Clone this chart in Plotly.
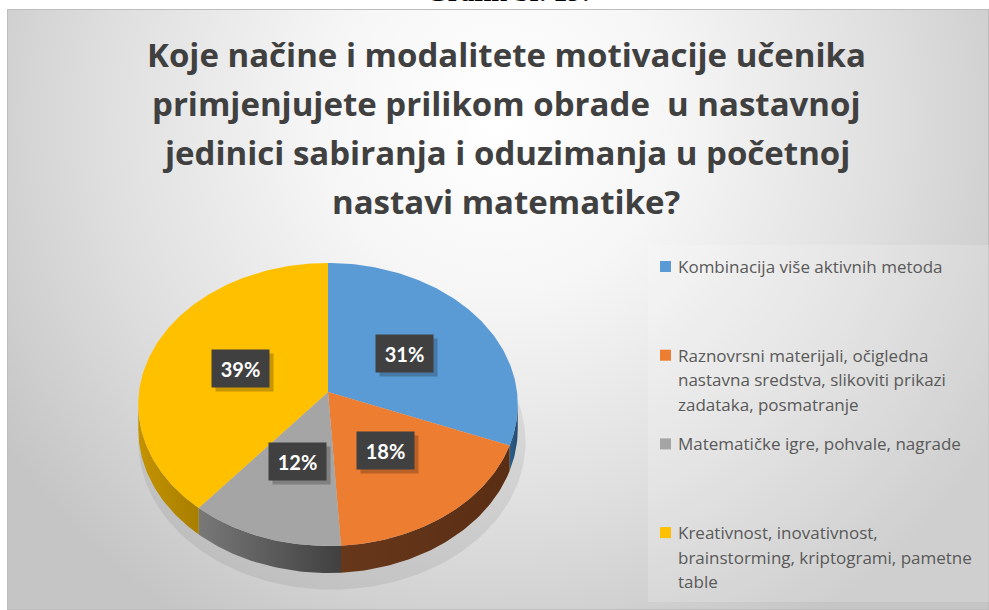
import base64
import numpy as np
import plotly.graph_objects as go

# ---------------- data ----------------
categories = [
    "Kombinacija više aktivnih metoda",
    "Raznovrsni materijali, očigledna nastavna sredstva, slikoviti prikazi zadataka, posmatranje",
    "Matematičke igre, pohvale, nagrade",
    "Kreativnost, inovativnost, brainstorming, kriptogrami, pametne table",
]
legend_lines = [
    ["Kombinacija više aktivnih metoda"],
    ["Raznovrsni materijali, očigledna", "nastavna sredstva, slikoviti prikazi", "zadataka, posmatranje"],
    ["Matematičke igre, pohvale, nagrade"],
    ["Kreativnost, inovativnost,", "brainstorming, kriptogrami, pametne", "table"],
]
values = [31, 18, 12, 39]
percent_labels = ["31%", "18%", "12%", "39%"]
title_lines = [
    "Koje načine i modalitete motivacije učenika",
    "primjenjujete prilikom obrade\u00a0 u nastavnoj",
    "jedinici sabiranja i oduzimanja u početnoj",
    "nastavi matematike?",
]
caption = "Grafik br. 19:"

# ---------------- style ----------------
top_colors = ["#5B9BD5", "#ED7D31", "#A5A5A5", "#FFC000"]
side_colors = [("#2F5E8A", "#244A6E"), ("#67371A", "#5A2E14"), ("#787878", "#404040"), ("#C49300", "#A87E00")]
W, H = 989, 610
CX, CY = 328, 392          # pie apex on screen
A, B, P = 189.0, 140.4, 0.0883   # projection parameters (tilted disc with perspective)
T = 24.6                   # wall thickness

def proj(theta, r=1.0, drop=0.0):
    u = r * np.sin(theta)
    v = r * np.cos(theta)
    d = 1 + P * v
    return CX + A * u / d, CY - B * v / d + drop / d

fig = go.Figure()

total = float(sum(values))
bounds = np.concatenate([[0], np.cumsum(values)]) / total * 2 * np.pi

# soft shadow beneath the pie
th = np.linspace(0, 2 * np.pi, 200)
sx, sy = proj(th, 1.02, T + 12)
fig.add_trace(go.Scatter(x=sx + 4, y=sy, fill="toself", mode="lines", line=dict(width=0),
                         fillcolor="rgba(0,0,0,0.07)", hoverinfo="skip", showlegend=False))

# walls (front facing part only)
t_lo = np.arccos(-P)
t_hi = 2 * np.pi - t_lo
for i, cat in enumerate(categories):
    a0, a1 = max(bounds[i], t_lo), min(bounds[i + 1], t_hi)
    if a1 <= a0:
        continue
    th = np.linspace(a0, a1, max(3, int((a1 - a0) * 60)))
    xt, yt = proj(th)
    xb, yb = proj(th, 1.0, T)
    xs = np.concatenate([xt, xb[::-1]])
    ys = np.concatenate([yt, yb[::-1]])
    c1, c2 = side_colors[i]
    fig.add_trace(go.Scatter(x=xs, y=ys, fill="toself", mode="lines", line=dict(width=0),
                             fillcolor=c1,
                             fillgradient=dict(type="horizontal", colorscale=[[0, c1], [1, c2]]),
                             hoverinfo="skip", showlegend=False))

# top faces
for i, cat in enumerate(categories):
    th = np.linspace(bounds[i], bounds[i + 1], max(3, int((bounds[i + 1] - bounds[i]) * 60)))
    xa, ya = proj(th)
    xs = np.concatenate([[CX], xa, [CX]])
    ys = np.concatenate([[CY], ya, [CY]])
    fig.add_trace(go.Scatter(x=xs, y=ys, fill="toself", mode="lines", line=dict(width=0),
                             fillcolor=top_colors[i], name=cat, hoverinfo="name+text",
                             text=percent_labels[i], showlegend=False))

# data labels
annotations = []
for i, lab in enumerate(percent_labels):
    mid = (bounds[i] + bounds[i + 1]) / 2
    lx, ly = proj(mid, 0.5)
    annotations.append(dict(x=lx, y=ly, xref="x", yref="y", text="", showarrow=False,
                            width=55, height=35, bgcolor="rgba(0,0,0,0.22)", xshift=4, yshift=-4))
    annotations.append(dict(x=lx, y=ly, xref="x", yref="y", text=f"<b>{lab}</b>", showarrow=False,
                            width=55, height=35, bgcolor="#404040", align="center", valign="middle",
                            font=dict(family="Lato", size=20, color="white")))

# title
for k, line in enumerate(title_lines):
    annotations.append(dict(x=506, y=54.5 + 49.0 * k, xref="x", yref="y", text=f"<b>{line}</b>",
                            showarrow=False, xanchor="center", yanchor="middle",
                            font=dict(family="Open Sans", size=33, color="#404040")))

# caption (cut at top of page, as in the source)
annotations.append(dict(x=508, y=9, xref="x", yref="y", text=f"<b>{caption}</b>", showarrow=False,
                        xanchor="center", yanchor="bottom",
                        font=dict(family="Liberation Serif", size=28, color="black")))

# legend
shapes = [dict(type="rect", xref="x", yref="y", x0=648, x1=989, y0=245, y1=602,
               fillcolor="rgba(255,255,255,0.18)", line=dict(width=0), layer="below")]
for i, lines in enumerate(legend_lines):
    y0 = 266.5 + 88.7 * i
    shapes.append(dict(type="rect", xref="x", yref="y", x0=660, x1=671, y0=y0 - 5.5, y1=y0 + 5.5,
                       fillcolor=top_colors[i], line=dict(width=0)))
    for k, ln in enumerate(lines):
        annotations.append(dict(x=676, y=y0 + 24.5 * k, xref="x", yref="y", text=ln, showarrow=False,
                                xanchor="left", yanchor="middle",
                                font=dict(family="Open Sans", size=17, color="#595959")))

# background gradient panel
svg = """<svg xmlns='http://www.w3.org/2000/svg' width='982' height='601' viewBox='0 0 982 601' preserveAspectRatio='none'>
<defs><radialGradient id='g' gradientUnits='userSpaceOnUse' cx='490' cy='110' r='590'>
<stop offset='0' stop-color='#ffffff'/><stop offset='0.3' stop-color='#f6f6f6'/>
<stop offset='0.65' stop-color='#e0e0e0'/><stop offset='1' stop-color='#c5c5c5'/></radialGradient></defs>
<rect width='982' height='601' fill='url(#g)'/>
<rect x='0.5' y='0.5' width='981' height='600' fill='none' stroke='#bdbdbd'/>
</svg>"""
src = "data:image/svg+xml;base64," + base64.b64encode(svg.encode()).decode()

fig.update_layout(
    width=W, height=H, margin=dict(l=0, r=0, t=0, b=0),
    paper_bgcolor="white", plot_bgcolor="rgba(0,0,0,0)",
    xaxis=dict(range=[0, W], visible=False, fixedrange=True),
    yaxis=dict(range=[H, 0], visible=False, fixedrange=True),
    annotations=annotations, shapes=shapes, showlegend=False,
    images=[dict(source=src, xref="paper", yref="paper", x=7 / W, y=1 - 9 / H,
                 sizex=982 / W, sizey=601 / H, xanchor="left", yanchor="top",
                 sizing="stretch", layer="below")],
)

fig.write_html("out.html", config={"displayModeBar": False},
               post_script="document.body.style.margin='0';document.body.style.overflow='hidden';")
